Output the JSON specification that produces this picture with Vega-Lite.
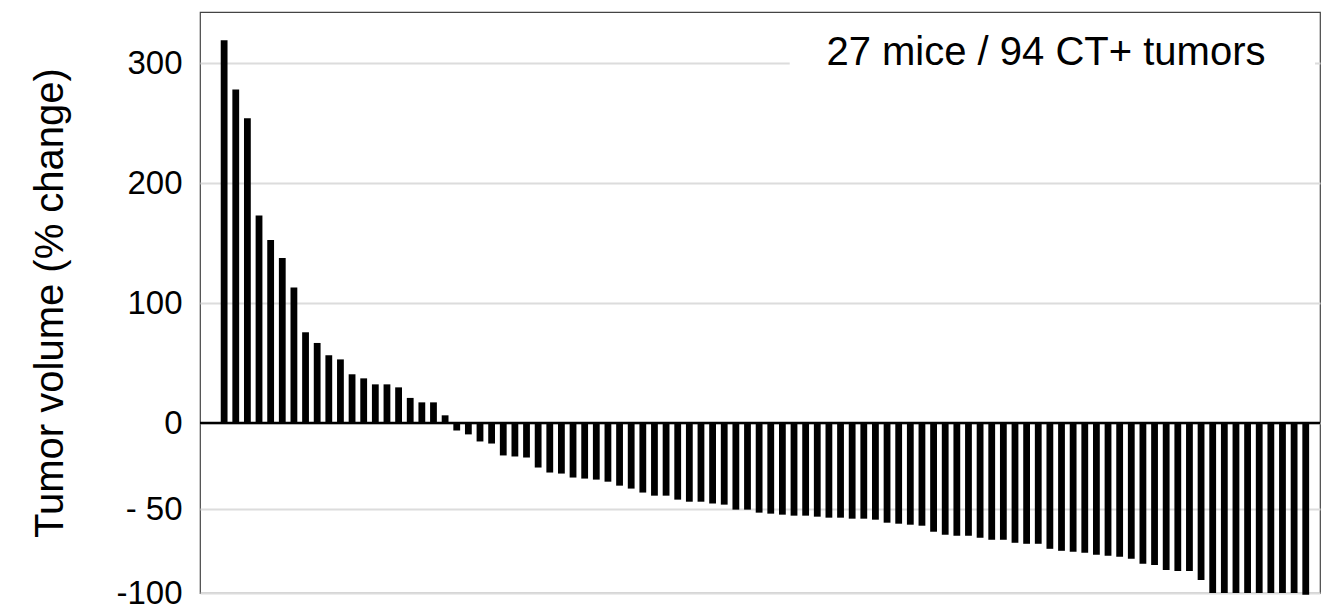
{
  "$schema": "https://vega.github.io/schema/vega-lite/v6.json",
  "width": 1120,
  "height": 581,
  "autosize": {"type": "none"},
  "padding": {"left": 200, "top": 12, "right": 8, "bottom": 16},
  "background": "white",
  "config": {
    "view": {"stroke": "#444444", "strokeWidth": 1.2},
    "font": "Liberation Sans"
  },
  "datasets": {
    "tumors": [
      {"i": 1, "v": 319}, {"i": 2, "v": 278}, {"i": 3, "v": 254}, {"i": 4, "v": 173}, {"i": 5, "v": 152.5},
      {"i": 6, "v": 137.5}, {"i": 7, "v": 113}, {"i": 8, "v": 75.6}, {"i": 9, "v": 66.7}, {"i": 10, "v": 56.4},
      {"i": 11, "v": 53}, {"i": 12, "v": 40.6}, {"i": 13, "v": 37.2}, {"i": 14, "v": 32.2}, {"i": 15, "v": 32.2},
      {"i": 16, "v": 29.7}, {"i": 17, "v": 20.9}, {"i": 18, "v": 17.2}, {"i": 19, "v": 17.2}, {"i": 20, "v": 6.4},
      {"i": 21, "v": -4.3}, {"i": 22, "v": -6.6}, {"i": 23, "v": -10.7}, {"i": 24, "v": -11.9}, {"i": 25, "v": -18.8},
      {"i": 26, "v": -19.4}, {"i": 27, "v": -20}, {"i": 28, "v": -25.8}, {"i": 29, "v": -28.7}, {"i": 30, "v": -29.3},
      {"i": 31, "v": -31.6}, {"i": 32, "v": -32.2}, {"i": 33, "v": -32.8}, {"i": 34, "v": -34}, {"i": 35, "v": -36.3},
      {"i": 36, "v": -38}, {"i": 37, "v": -40.3}, {"i": 38, "v": -42.1}, {"i": 39, "v": -42.1}, {"i": 40, "v": -44.4},
      {"i": 41, "v": -45.6}, {"i": 42, "v": -45.6}, {"i": 43, "v": -46.7}, {"i": 44, "v": -47.3}, {"i": 45, "v": -50.2},
      {"i": 46, "v": -50.2}, {"i": 47, "v": -52.0}, {"i": 48, "v": -52.6}, {"i": 49, "v": -53.2}, {"i": 50, "v": -53.8},
      {"i": 51, "v": -53.8}, {"i": 52, "v": -54.4}, {"i": 53, "v": -55.0}, {"i": 54, "v": -55.0}, {"i": 55, "v": -55.6},
      {"i": 56, "v": -55.6}, {"i": 57, "v": -56.2}, {"i": 58, "v": -58.0}, {"i": 59, "v": -58.6}, {"i": 60, "v": -59.2},
      {"i": 61, "v": -59.8}, {"i": 62, "v": -63.4}, {"i": 63, "v": -65.2}, {"i": 64, "v": -65.8}, {"i": 65, "v": -65.8},
      {"i": 66, "v": -67.0}, {"i": 67, "v": -68.2}, {"i": 68, "v": -68.2}, {"i": 69, "v": -70.0}, {"i": 70, "v": -70.6},
      {"i": 71, "v": -70.6}, {"i": 72, "v": -73.6}, {"i": 73, "v": -74.8}, {"i": 74, "v": -75.4}, {"i": 75, "v": -76.0},
      {"i": 76, "v": -77.2}, {"i": 77, "v": -77.8}, {"i": 78, "v": -78.4}, {"i": 79, "v": -79.6}, {"i": 80, "v": -82.6},
      {"i": 81, "v": -83.2}, {"i": 82, "v": -86.2}, {"i": 83, "v": -86.8}, {"i": 84, "v": -86.8}, {"i": 85, "v": -92.2},
      {"i": 86, "v": -100}, {"i": 87, "v": -100}, {"i": 88, "v": -100}, {"i": 89, "v": -100}, {"i": 90, "v": -100},
      {"i": 91, "v": -100}, {"i": 92, "v": -100}, {"i": 93, "v": -100}, {"i": 94, "v": -101}
    ]
  },
  "layer": [
    {
      "data": {"name": "tumors"},
      "mark": {"type": "bar", "color": "#000000", "width": 6.8},
      "encoding": {
        "x": {"field": "i", "type": "quantitative", "scale": {"domain": [-0.645, 94.796], "nice": false, "zero": false}, "axis": null},
        "y": {
          "field": "v",
          "type": "quantitative",
          "title": "Tumor volume (% change)",
          "scale": {"domain": [-100, -50, 0, 300, 342.5], "range": [581, 497.3, 411, 51, 0], "nice": false, "zero": false},
          "axis": {
            "title": "Tumor volume (% change)",
            "values": [-100, -50, 0, 100, 200, 300],
            "labelExpr": "datum.value == -50 ? '- 50' : (datum.value == -100 ? '-100' : datum.label)",
            "grid": true,
            "gridColor": "#dcdcdc",
            "gridWidth": 2,
            "domain": false,
            "ticks": false,
            "tickSize": 0,
            "labelPadding": 18,
            "labelFontSize": 33,
            "labelColor": "#000000",
            "labelFont": "Liberation Sans",
            "titleFont": "Liberation Sans",
            "titleFontSize": 40,
            "titleFontWeight": "normal",
            "titleColor": "#000000",
            "titleX": -138,
            "titleY": 290.5,
            "titleAngle": 270,
            "titleAlign": "center",
            "titleBaseline": "alphabetic"
          }
        }
      }
    },
    {
      "data": {"values": [{"x0": 49.63, "x1": 94.796, "y0": 285, "y1": 330}]},
      "mark": {"type": "rect", "fill": "white"},
      "encoding": {
        "x": {"field": "x0", "type": "quantitative", "axis": null},
        "x2": {"field": "x1"},
        "y": {"field": "y0", "type": "quantitative", "title": "Tumor volume (% change)"},
        "y2": {"field": "y1"}
      }
    },
    {
      "data": {"values": [{"z": 0}]},
      "mark": {"type": "rule", "color": "#000000", "strokeWidth": 2.5},
      "encoding": {
        "y": {"field": "z", "type": "quantitative", "title": "Tumor volume (% change)"}
      }
    },
    {
      "data": {"values": [{"tx": 71.66, "ty": 298, "label": "27 mice / 94 CT+ tumors"}]},
      "mark": {"type": "text", "font": "Liberation Sans", "fontSize": 40, "color": "#000000", "align": "center", "baseline": "alphabetic"},
      "encoding": {
        "x": {"field": "tx", "type": "quantitative", "axis": null},
        "y": {"field": "ty", "type": "quantitative", "title": "Tumor volume (% change)"},
        "text": {"field": "label"}
      }
    }
  ]
}
